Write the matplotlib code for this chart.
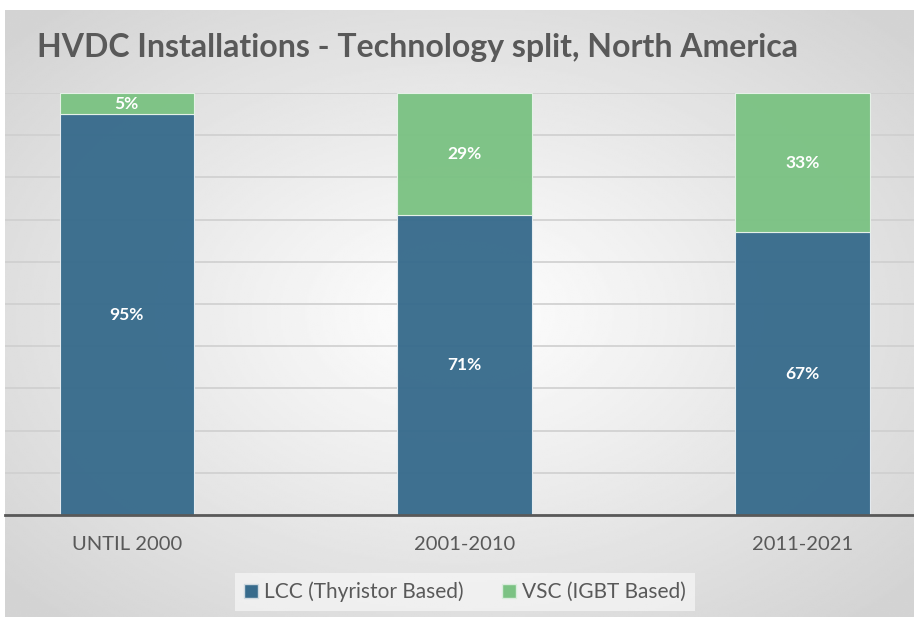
import numpy as np
import matplotlib
import matplotlib.pyplot as plt
from matplotlib.patches import Patch

matplotlib.rcParams["font.family"] = ["Lato", "DejaVu Sans"]

categories = ["UNTIL 2000", "2001-2010", "2011-2021"]
lcc = [95, 71, 67]
vsc = [5, 29, 33]
series_names = ["LCC (Thyristor Based)", "VSC (IGBT Based)"]

LCC_COLOR = "#376B8C"
VSC_COLOR = "#7BC283"
TEXT_COLOR = "#595959"

W, H = 914, 617
fig = plt.figure(figsize=(W / 100, H / 100), dpi=100)

# radial grey-to-white background of the chart area
bg = fig.add_axes([5 / W, 0, 1 - 5 / W, (H - 10) / H])
yy, xx = np.mgrid[-1:1:300j, -1:1:450j]
r = np.sqrt((xx * 0.9) ** 2 + (yy * 0.9) ** 2)
shade = 1.0 - 0.17 * np.clip(r, 0, 1.2) / 1.2
bg.imshow(shade, cmap="gray", vmin=0, vmax=1, aspect="auto", extent=[0, 1, 0, 1])
bg.set_axis_off()

ax = fig.add_axes([5 / W, (H - 515) / H, 1 - 5 / W, (515 - 93) / H])
ax.patch.set_alpha(0)
x = np.arange(len(categories))
width = 0.397
ax.bar(x, lcc, width, color=LCC_COLOR, edgecolor="#e8eef2", linewidth=0.8, alpha=0.96, zorder=3)
ax.bar(x, vsc, width, bottom=lcc, color=VSC_COLOR, edgecolor="#e8f3ea", linewidth=0.8, alpha=0.96, zorder=3)

for i in range(len(categories)):
    ax.text(x[i], lcc[i] / 2, f"{lcc[i]}%", ha="center", va="center",
            color="white", fontsize=12.5, fontweight="bold", zorder=4)
    ax.text(x[i], lcc[i] + vsc[i] / 2, f"{vsc[i]}%", ha="center", va="center",
            color="white", fontsize=12.5, fontweight="bold", zorder=4)

ax.set_xlim(-0.36, 2.33)
ax.set_ylim(0, 100)
ax.set_yticks(np.arange(0, 101, 10))
ax.yaxis.grid(True, color="#cfcfcf", linewidth=1.2, zorder=0)
ax.set_yticklabels([])
ax.tick_params(axis="y", length=0)
ax.set_xticks(x)
ax.set_xticklabels(categories, fontsize=14.5, color=TEXT_COLOR)
ax.tick_params(axis="x", length=0, pad=15)
for s in ("top", "right", "left"):
    ax.spines[s].set_visible(False)
ax.spines["bottom"].set_color("#595959")
ax.spines["bottom"].set_linewidth(2)
ax.spines["bottom"].set_zorder(5)

fig.text(37 / W, 1 - 47 / H, "HVDC Installations - Technology split, North America",
         fontsize=23, fontweight="bold", color=TEXT_COLOR, ha="left", va="center")

handles = [Patch(facecolor=LCC_COLOR, edgecolor="#cfd9e0"), Patch(facecolor=VSC_COLOR, edgecolor="#d9ecdc")]
leg = fig.legend(handles, series_names, loc="center", bbox_to_anchor=(465 / W, 1 - 592 / H),
                 ncol=2, fontsize=15, frameon=True, fancybox=False, handlelength=0.7,
                 handleheight=0.7, handletextpad=0.3, columnspacing=1.8, borderpad=0.4)
leg.get_frame().set_facecolor("#f7f7f7")
leg.get_frame().set_edgecolor("none")
leg.get_frame().set_alpha(0.7)
for t in leg.get_texts():
    t.set_color(TEXT_COLOR)

fig.savefig("out.png", dpi=100)
